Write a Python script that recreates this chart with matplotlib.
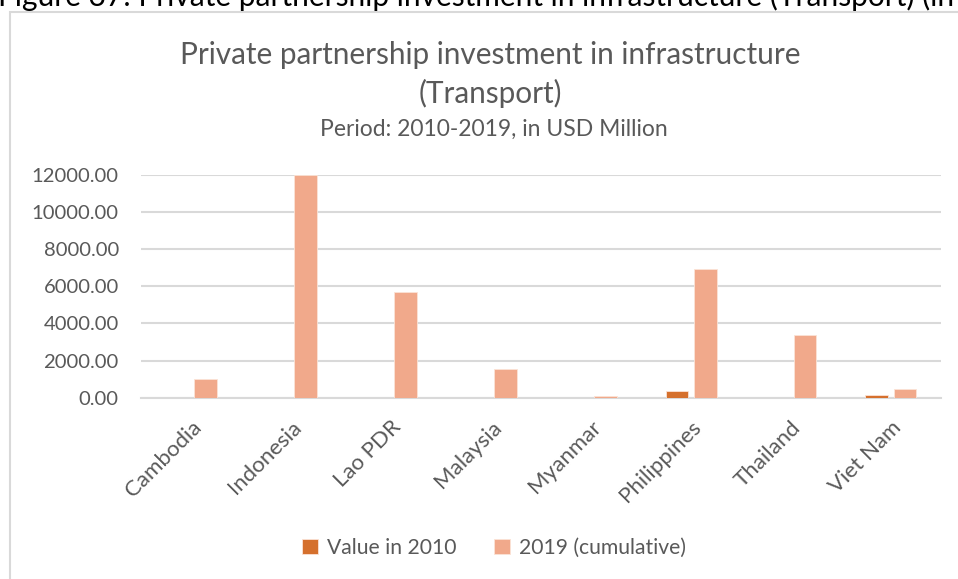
import numpy as np
import matplotlib
matplotlib.use("Agg")
from matplotlib import pyplot as plt
from matplotlib.patches import Rectangle

COUNTRIES = ["Cambodia", "Indonesia", "Lao PDR", "Malaysia", "Myanmar",
             "Philippines", "Thailand", "Viet Nam"]
VALUE_2010 = [0, 0, 0, 0, 0, 345, 0, 150]
VALUE_2019 = [990, 11990, 5680, 1550, 90, 6935, 3365, 455]
SERIES_LABELS = ["Value in 2010", "2019 (cumulative)"]
YTICKS = [0, 2000, 4000, 6000, 8000, 10000, 12000]

COLOR_2010 = "#D5702D"
COLOR_2019 = "#F1A98B"
TEXT = "#595959"
GRID = "#D9D9D9"
FONT = "Lato"

plt.rcParams.update({"font.family": FONT, "text.color": TEXT})
W, H = 958, 579
fig = plt.figure(figsize=(W / 100, H / 100), dpi=100)

# chart frame (runs off the right and bottom edges like the screenshot)
fig.patches.append(Rectangle((10 / W, -0.1), 1.2, 1 - 12 / H + 0.1, transform=fig.transFigure,
                             fill=False, edgecolor=GRID, linewidth=1.5))
# cropped document caption above the chart
fig.text(-2 / W, 1 - 6 / H, "Figure 37: Private partnership investment in infrastructure (Transport) (in USD Million)",
         fontsize=21.5, color="#000000", ha="left", va="baseline")

ax = fig.add_axes([141 / W, 1 - 397.7 / H, 800 / W, 222.7 / H])
x = np.arange(len(COUNTRIES))
width = 0.225
ax.bar(x - 0.1425, VALUE_2010, width, color=COLOR_2010, edgecolor="#FBE3D6",
       linewidth=0.6, label=SERIES_LABELS[0], zorder=3)
ax.bar(x + 0.1425, VALUE_2019, width, color=COLOR_2019, edgecolor="#FBE3D6",
       linewidth=0.6, label=SERIES_LABELS[1], zorder=3)

ax.set_xlim(-0.5, len(COUNTRIES) - 0.5)
ax.set_ylim(0, 12000)
ax.set_yticks(YTICKS)
ax.set_yticklabels([f"{v:.2f}" for v in YTICKS], fontsize=14.6, color=TEXT)
ax.set_xticks(x)
ax.set_xticklabels(COUNTRIES, rotation=45, ha="right", va="top", rotation_mode="anchor",
                   fontsize=16, color=TEXT)
ax.tick_params(axis="both", length=0)
ax.tick_params(axis="y", pad=16)
ax.tick_params(axis="x", pad=14)
ax.grid(True, axis="y", color=GRID, linewidth=1.5, zorder=0)
for side in ["top", "right", "left"]:
    ax.spines[side].set_visible(False)
ax.spines["bottom"].set_color(GRID)
ax.spines["bottom"].set_linewidth(1.5)

fig.text(490 / W, 1 - 55 / H, "Private partnership investment in infrastructure",
         fontsize=21.4, ha="center", va="center")
fig.text(490 / W, 1 - 93 / H, "(Transport)", fontsize=21.4, ha="center", va="center")
fig.text(494 / W, 1 - 129 / H, "Period: 2010-2019, in USD Million", fontsize=16.5, ha="center", va="center")

fig.legend(loc="center", bbox_to_anchor=(494 / W, 1 - 548 / H), ncol=2, frameon=False,
           fontsize=15.2, handlelength=0.75, handleheight=0.75, handletextpad=0.4, columnspacing=1.8)

fig.savefig("out.png", dpi=100)
